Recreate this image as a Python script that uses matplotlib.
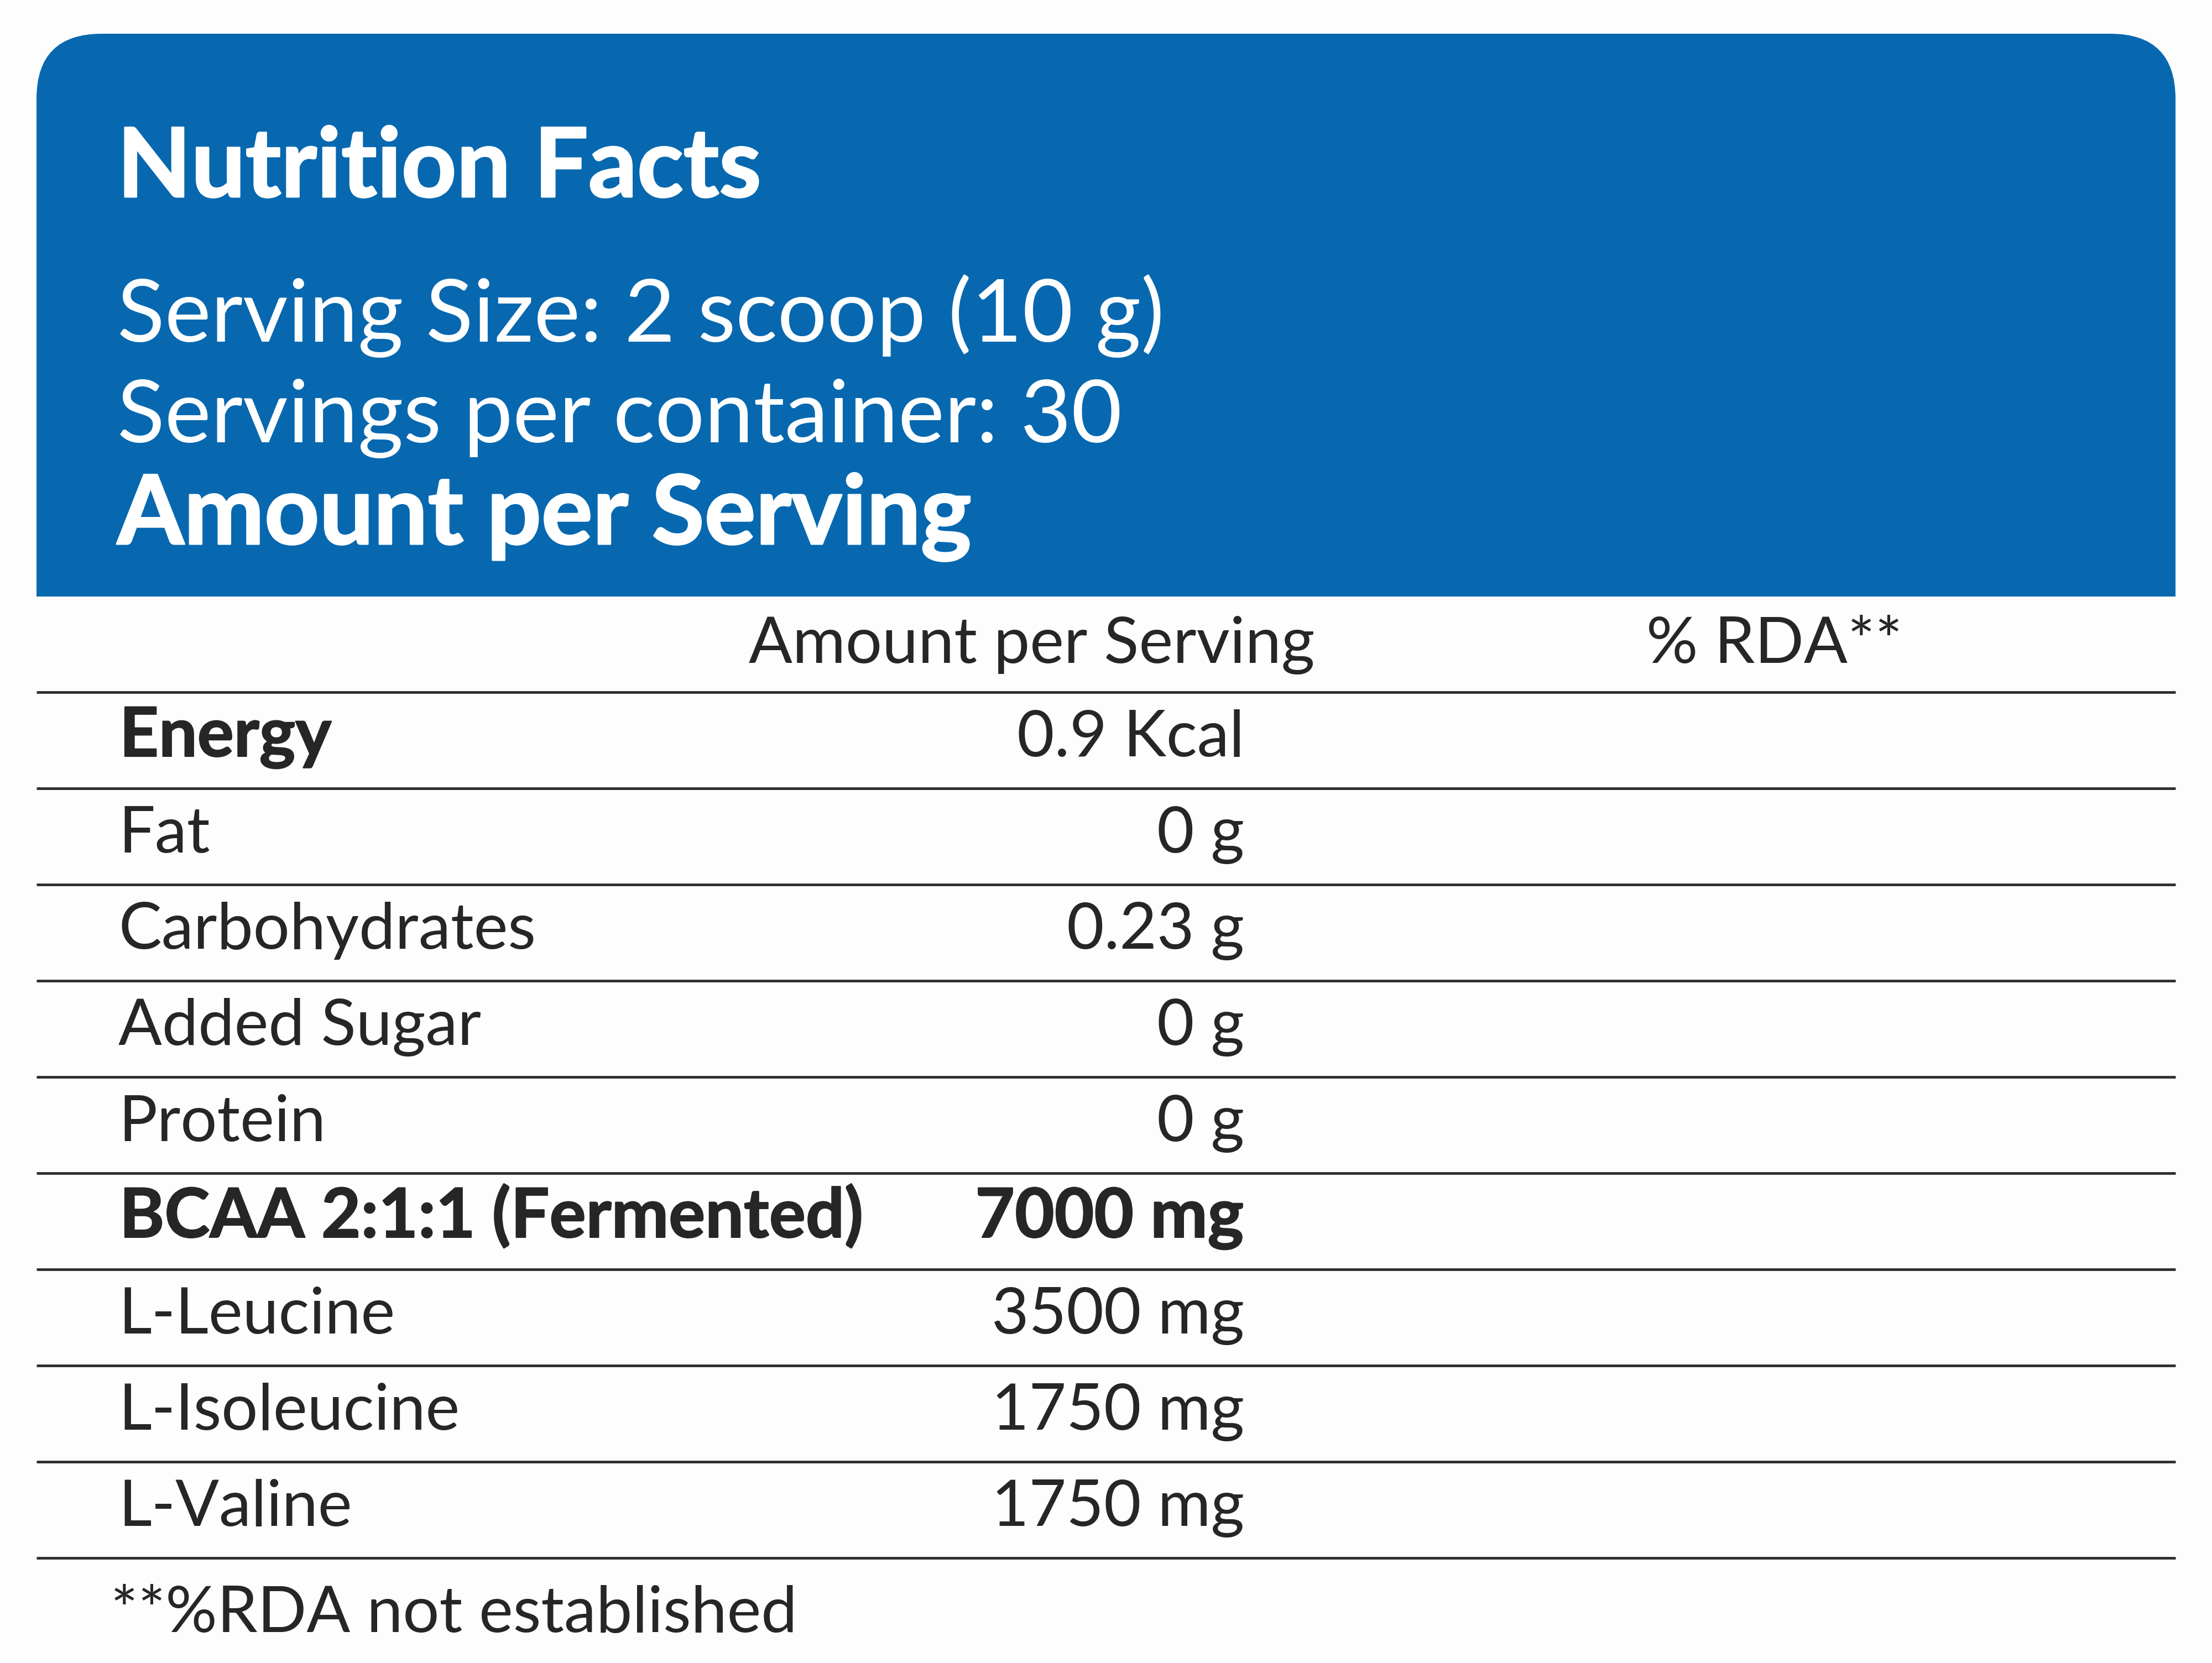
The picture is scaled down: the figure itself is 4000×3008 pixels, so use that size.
import matplotlib
matplotlib.use('Agg')
import matplotlib.pyplot as plt
import matplotlib.patheffects as pe
from matplotlib.patches import FancyBboxPatch, Rectangle

# label content
title = 'Nutrition Facts'
serving_lines = ['Serving Size: 2 scoop (10 g)', 'Servings per container: 30']
subtitle = 'Amount per Serving'
col_headers = ['Amount per Serving', '% RDA**']
nutrients = ['Energy', 'Fat', 'Carbohydrates', 'Added Sugar', 'Protein',
             'BCAA 2:1:1 (Fermented)', 'L-Leucine', 'L-Isoleucine', 'L-Valine']
amounts = ['0.9 Kcal', '0 g', '0.23 g', '0 g', '0 g',
           '7000 mg', '3500 mg', '1750 mg', '1750 mg']
bold_names = [True, False, False, False, False, True, False, False, False]
bold_amounts = [False, False, False, False, False, True, False, False, False]
footnote = '**%RDA not established'

BLUE = '#0768b0'
INK = '#262626'
FONT = 'Lato'

W, H = 4000, 3008
fig = plt.figure(figsize=(W / 100, H / 100), dpi=100, facecolor='#fdfdfd')
ax = fig.add_axes([0, 0, 1, 1])
ax.set_xlim(0, W)
ax.set_ylim(H, 0)
ax.axis('off')

# blue header panel, rounded on top only
left, right, top, bottom = 66, 3934, 61, 1079
rad = 118
ax.add_patch(FancyBboxPatch((left + rad, top + rad), right - left - 2 * rad, bottom - top - 2 * rad,
                            boxstyle='round,pad=%d' % rad, fc=BLUE, ec='none'))
ax.add_patch(Rectangle((left, 600), right - left, bottom - 600, fc=BLUE, ec='none'))

# heavier look for the bold lines (the original face is an extra bold)
heavy_white = [pe.withStroke(linewidth=2.2, foreground='white')]
heavy_ink = [pe.withStroke(linewidth=1.5, foreground=INK)]

tx = 212
ax.text(tx, 356, title, color='white', fontsize=125, fontweight='bold', family=FONT,
        va='baseline', path_effects=heavy_white)
ax.text(tx, 618, serving_lines[0], color='white', fontsize=114, family=FONT, va='baseline')
ax.text(tx, 800, serving_lines[1], color='white', fontsize=114, family=FONT, va='baseline')
ax.text(tx, 984, subtitle, color='white', fontsize=125, fontweight='bold', family=FONT,
        va='baseline', path_effects=heavy_white)

# table
row_h = 174
first_line = 1252
fs = 84
ax.text(1866, bottom + 120, col_headers[0], color=INK, fontsize=fs, family=FONT, ha='center', va='baseline')
ax.text(3209, bottom + 120, col_headers[1], color=INK, fontsize=fs, family=FONT, ha='center', va='baseline')

n = len(nutrients)
for i in range(n + 1):
    y = first_line + i * row_h
    ax.plot([left, right], [y, y], color='#2b2b2b', lw=3.4, solid_capstyle='butt')

for i, name in enumerate(nutrients):
    base = first_line + i * row_h + 116
    if bold_names[i]:
        ax.text(216, base, name, color=INK, fontsize=89, family=FONT, va='baseline',
                fontweight='bold', path_effects=heavy_ink)
    else:
        ax.text(214, base, name, color=INK, fontsize=fs, family=FONT, va='baseline')
    if bold_amounts[i]:
        ax.text(2249, base, amounts[i], color=INK, fontsize=89, family=FONT, ha='right',
                va='baseline', fontweight='bold', path_effects=heavy_ink)
    else:
        ax.text(2250, base, amounts[i], color=INK, fontsize=fs, family=FONT, ha='right', va='baseline')

ax.text(200, first_line + n * row_h + 134, footnote, color=INK, fontsize=fs, family=FONT, va='baseline')

fig.savefig('out.png', dpi=100, facecolor=fig.get_facecolor())
plt.close(fig)
